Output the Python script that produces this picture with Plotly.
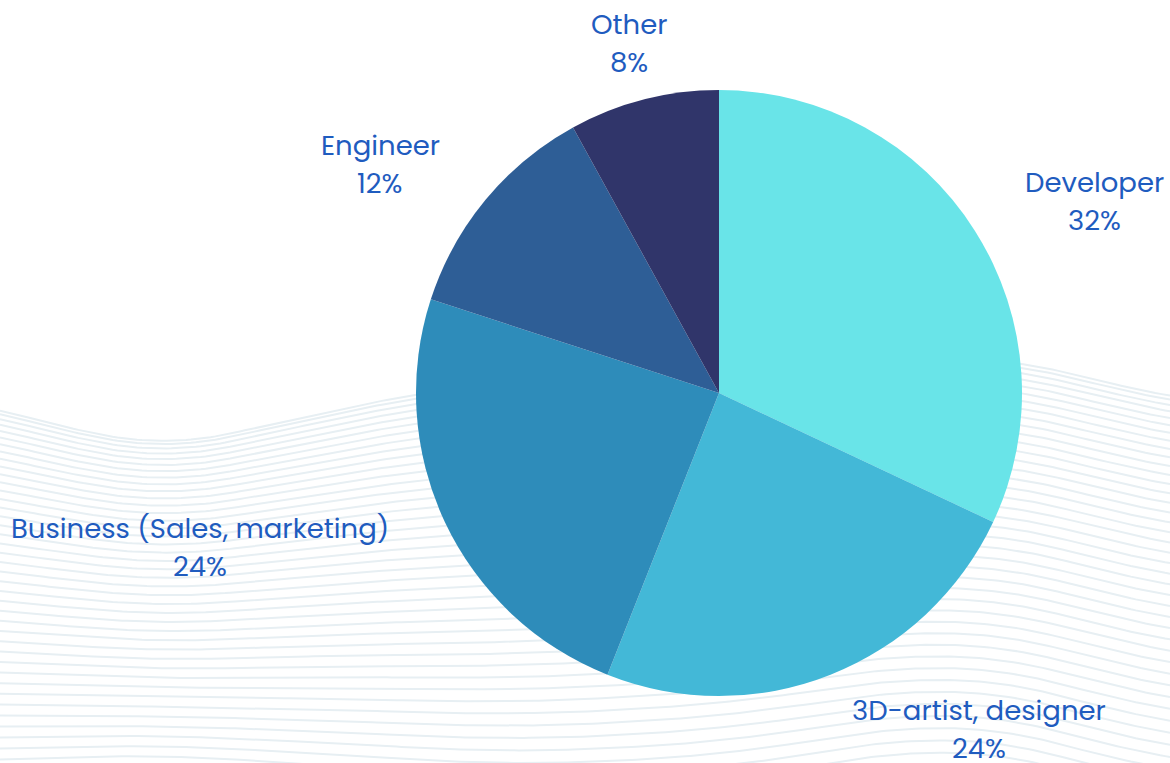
import numpy as np
import plotly.graph_objects as go

# Survey: share of respondents by role
roles = ["Developer", "3D-artist, designer", "Business (Sales, marketing)", "Engineer", "Other"]
shares = [32, 24, 24, 12, 8]
slice_colors = ["#69e4e8", "#43b8d7", "#2e8cba", "#2e5e96", "#30356a"]

# Label anchor points (pixels from top-left) for each role's caption
label_xy = {
    "Developer": (1094, 182),
    "3D-artist, designer": (979, 710),
    "Business (Sales, marketing)": (200, 528),
    "Engineer": (380, 145),
    "Other": (629, 24),
}
LINE_GAP = 38
TEXT_COLOR = "#1f5cbf"

W, H = 1170, 763

fig = go.Figure()

# Decorative wavy line texture behind the pie
ctrl_x = np.array([0, 130, 280, 415, 560, 720, 880, 960, 1020, 1100, 1170])
top_y = np.array([400, 455, 423, 392, 375, 362, 356, 356, 358, 378, 405])
bot_x = np.array([0, 130, 300, 500, 720, 880, 950, 1050, 1170])
bot_y = np.array([808, 792, 808, 830, 822, 792, 782, 800, 840])
xs = np.linspace(0, W, 240)
top = np.interp(xs, ctrl_x, top_y)
bot = np.interp(xs, bot_x, bot_y)
kern = np.ones(41) / 41
pad = 20
top = np.convolve(np.pad(top, pad, mode="edge"), kern, mode="valid")
bot = np.convolve(np.pad(bot, pad, mode="edge"), kern, mode="valid")
n_lines = 44
for k in range(n_lines):
    t = (k / (n_lines - 1)) ** 1.25
    ys = top + (bot - top) * t
    fig.add_trace(go.Scatter(
        x=xs, y=ys, mode="lines",
        line=dict(color="#e7eff3", width=2),
        hoverinfo="skip", showlegend=False,
    ))

# Pie chart
cx, cy, r = 719, 393, 303
fig.add_trace(go.Pie(
    labels=roles, values=shares, sort=False, direction="clockwise", rotation=0,
    marker=dict(colors=slice_colors, line=dict(width=0)),
    textinfo="none", hoverinfo="label+percent", showlegend=False,
    domain=dict(x=[(cx - r) / W, (cx + r) / W], y=[(H - cy - r) / H, (H - cy + r) / H]),
))

font = dict(family="Poppins, Open Sans, sans-serif", size=27.5, color=TEXT_COLOR)
for role, val in zip(roles, shares):
    x0, y0 = label_xy[role]
    fig.add_annotation(x=x0, y=y0, text=role, showarrow=False, font=font,
                       xref="x", yref="y", xanchor="center", yanchor="middle")
    fig.add_annotation(x=x0, y=y0 + LINE_GAP, text=f"{val}%", showarrow=False, font=font,
                       xref="x", yref="y", xanchor="center", yanchor="middle")

fig.update_layout(
    width=W, height=H, margin=dict(l=0, r=0, t=0, b=0),
    paper_bgcolor="white", plot_bgcolor="white",
    xaxis=dict(range=[0, W], visible=False, fixedrange=True),
    yaxis=dict(range=[H, 0], visible=False, fixedrange=True),
)

fig.write_html("out.html")
